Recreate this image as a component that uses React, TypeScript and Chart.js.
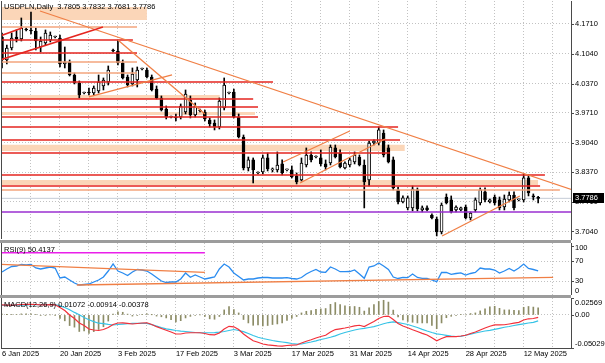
import React, { useEffect, useRef } from 'react';
import { Chart, registerables } from 'chart.js';

Chart.register(...registerables);

const FONT_FAMILY = '"Liberation Sans", Arial, sans-serif';

// ---------------- data ----------------
const symbolLabel = 'USDPLN,Daily';

const opens = [
  4.1417, 4.0900, 4.1170, 4.1417, 4.1372, 4.1597, 4.1575, 4.1552, 4.1192, 4.1282, 4.1350, 4.1417,
  4.1395, 4.0810, 4.0855, 4.0562, 4.0382, 4.0157, 4.0180, 4.0157, 4.0202, 4.0315,
  4.0405, 4.1125, 4.1102, 4.0832, 4.0517, 4.0360, 4.0450, 4.0697, 4.0675, 4.0517,
  4.0247, 4.0045, 3.9797, 3.9617, 3.9617, 3.9617, 3.9730, 4.0000, 3.9662, 3.9775,
  3.9730, 3.9550, 3.9482, 3.9392, 3.9820, 4.0157, 4.0180, 3.9617, 3.9167, 3.8470,
  3.8650, 3.8357, 3.8380, 3.8695, 3.8425, 3.8425, 3.8560, 3.8425, 3.8425, 3.8290,
  3.8200, 3.8537, 3.8762, 3.8717, 3.8695, 3.8560, 3.8582, 3.8920, 3.8807, 3.8470,
  3.8537, 3.8605, 3.8717, 3.8537, 3.8200, 3.9032, 3.9032, 3.9257, 3.8920, 3.8650,
  3.7975, 3.7705, 3.7570, 3.7570, 3.7975, 3.7525, 3.7570, 3.7412, 3.7322, 3.7030,
  3.7817, 3.7750, 3.7525, 3.7525, 3.7592, 3.7345, 3.7525, 3.7682, 3.7930, 3.7705,
  3.7817, 3.7750, 3.7592, 3.7750, 3.7862, 3.7750, 3.7750, 3.8245, 3.7840, 3.7805,
];
const highs = [
  4.1507, 4.1237, 4.1507, 4.1575, 4.1845, 4.1620, 4.1980, 4.1620, 4.1417, 4.1575, 4.1530, 4.1440,
  4.1462, 4.1192, 4.0900, 4.0607, 4.0427, 4.0180, 4.0270, 4.0315, 4.0562, 4.0495,
  4.0765, 4.1147, 4.1350, 4.0900, 4.0562, 4.0720, 4.0742, 4.0720, 4.0720, 4.0562,
  4.0315, 4.0090, 3.9865, 3.9640, 3.9685, 3.9910, 4.0225, 4.0090, 3.9932, 3.9797,
  3.9775, 3.9595, 3.9550, 4.0045, 4.0495, 4.0180, 4.0247, 3.9685, 3.9212, 3.8717,
  3.8695, 3.8380, 3.8762, 3.8807, 3.8470, 3.8830, 3.8650, 3.8447, 3.8515, 3.8357,
  3.8695, 3.8920, 3.8830, 3.8740, 3.8875, 3.8650, 3.8987, 3.8987, 3.8875, 3.8605,
  3.8695, 3.8830, 3.8762, 3.8650, 3.9077, 3.9100, 3.9392, 3.9325, 3.8987, 3.8717,
  3.8042, 3.7840, 3.7840, 3.8065, 3.8020, 3.7615, 3.7615, 3.7435, 3.7367, 3.7682,
  3.7885, 3.7840, 3.7615, 3.7592, 3.7637, 3.7480, 3.7795, 3.8020, 3.8020, 3.7772,
  3.7862, 3.7817, 3.7862, 3.7930, 3.7930, 3.7772, 3.8335, 3.8312, 3.7885, 3.7832,
];
const lows = [
  4.0720, 4.0810, 4.1125, 4.1305, 4.1327, 4.1552, 4.1485, 4.1125, 4.1080, 4.1237, 4.1305, 4.1395,
  4.0742, 4.0720, 4.0540, 4.0360, 4.0045, 4.0135, 4.0112, 4.0112, 4.0157, 4.0225,
  4.0337, 4.1080, 4.0787, 4.0472, 4.0292, 4.0315, 4.0292, 4.0675, 4.0495, 4.0202,
  4.0022, 3.9752, 3.9572, 3.9595, 3.9527, 3.9572, 3.9685, 3.9595, 3.9617, 3.9730,
  3.9527, 3.9392, 3.9325, 3.9347, 3.9775, 4.0135, 3.9595, 3.9145, 3.8425, 3.8402,
  3.8132, 3.8335, 3.8335, 3.8402, 3.8380, 3.8380, 3.8312, 3.8402, 3.8245, 3.8110,
  3.8177, 3.8492, 3.8605, 3.8695, 3.8515, 3.8425, 3.8537, 3.8695, 3.8470, 3.8447,
  3.8492, 3.8560, 3.8515, 3.7570, 3.8065, 3.8987, 3.8987, 3.8717, 3.8582, 3.7975,
  3.7660, 3.7682, 3.7525, 3.7502, 3.7502, 3.7480, 3.7502, 3.7322, 3.6940, 3.6985,
  3.7660, 3.7457, 3.7480, 3.7502, 3.7322, 3.7300, 3.7480, 3.7637, 3.7705, 3.7682,
  3.7637, 3.7525, 3.7525, 3.7705, 3.7525, 3.7727, 3.7705, 3.7840, 3.7750, 3.7681,
];
const closes = [
  4.0900, 4.1170, 4.1395, 4.1372, 4.1620, 4.1575, 4.1552, 4.1327, 4.1327, 4.1507, 4.1462, 4.1417,
  4.0810, 4.0855, 4.0562, 4.0382, 4.0112, 4.0157, 4.0157, 4.0270, 4.0405, 4.0450,
  4.0675, 4.1102, 4.0832, 4.0495, 4.0337, 4.0585, 4.0675, 4.0697, 4.0517, 4.0225,
  4.0045, 3.9775, 3.9617, 3.9617, 3.9595, 3.9865, 4.0135, 3.9662, 3.9865, 3.9752,
  3.9572, 3.9460, 3.9392, 3.9977, 4.0337, 4.0157, 3.9617, 3.9167, 3.8470, 3.8650,
  3.8425, 3.8357, 3.8695, 3.8447, 3.8425, 3.8537, 3.8357, 3.8425, 3.8267, 3.8155,
  3.8582, 3.8762, 3.8650, 3.8717, 3.8560, 3.8492, 3.8942, 3.8717, 3.8492, 3.8582,
  3.8650, 3.8762, 3.8537, 3.8155, 3.9032, 3.9077, 3.9325, 3.8762, 3.8605, 3.8020,
  3.7705, 3.7795, 3.7795, 3.7997, 3.7547, 3.7570, 3.7525, 3.7345, 3.7030, 3.7637,
  3.7682, 3.7480, 3.7592, 3.7570, 3.7345, 3.7457, 3.7750, 3.7975, 3.7750, 3.7750,
  3.7682, 3.7570, 3.7772, 3.7862, 3.7570, 3.7750, 3.8245, 3.7907, 3.7817, 3.7786,
];

// bottom axis: bar index of each date label, and weekly grid positions
const dateLabelIdx = [0, 12, 24, 36, 48, 60, 72, 84, 96, 108];
const dateLabels = ['6 Jan 2025', '20 Jan 2025', '3 Feb 2025', '17 Feb 2025', '3 Mar 2025', '17 Mar 2025', '31 Mar 2025', '14 Apr 2025', '28 Apr 2025', '12 May 2025'];
const weekGridIdx = [0, 6, 12, 18, 24, 30, 36, 42, 48, 54, 60, 66, 72, 78, 84, 90, 96, 102, 108, 114];
const barRange = [-0.207, 117.8];

// price axis
const priceTicks = [4.171, 4.104, 4.037, 3.971, 3.904, 3.837, 3.771, 3.704];
const priceRange = [3.6871, 4.2227];

// drawn objects on the price chart
const redLevels = [4.135, 4.1057, 4.0405, 4.0022, 3.9842, 3.9617, 3.9392, 3.91, 3.8807, 3.8312, 3.8065];
const redLevelEnds = [27.1, 27.95, 56.1, 52.0, 53.0, 53.0, 82.0, 82.4, 80.3, 112.4, 111.4];
const salmonLevels = [4.1642, 4.0855, 4.0607, 3.7975];
const salmonLevelEnds = [27.95, 27.95, 27.95, 115.5];
const supportLevel = 3.748;
const zoneTops = [4.2093, 4.0112, 3.973, 3.8991, 3.8199];
const zoneBottoms = [4.18, 4.0022, 3.9662, 3.8851, 3.8086];
const zoneEnds = [30.0, 45.1, 52.4, 83.4, 111.0];
const redTrendFromIdx = [-0.41, -0.41];
const redTrendFromPrice = [4.09, 4.144];
const redTrendToIdx = [20.9, 4.14];
const redTrendToPrice = [4.1642, 4.162];
const orangeTrendFromIdx = [7.87, 24.0, 18.0, 58.2, 61.7, 91.1];
const orangeTrendFromPrice = [4.2002, 4.135, 4.0067, 3.8604, 3.8131, 3.6938];
const orangeTrendToIdx = [118, 42.0, 35.2, 72.0, 79.3, 107.2];
const orangeTrendToPrice = [3.798, 3.9684, 4.0562, 3.9302, 3.9122, 3.7839];

// RSI(9)
const rsi = [
  48, 54, 59, 60, 63, 62, 63, 56, 54, 56, 58, 56,
  36, 38, 32, 26, 22, 23, 24, 28, 32, 38,
  50, 64, 50, 46, 41, 48, 53, 52, 50, 44,
  37, 30, 27, 28, 28, 34, 46, 37.4, 42, 38,
  34, 36, 38, 54, 64, 58, 46, 39, 32, 34,
  34, 36, 37, 37, 36, 36, 36, 36.6, 35, 34,
  37, 44, 49, 53, 48, 47.4, 58, 54, 48.6, 48.6,
  49, 52, 44, 35.4, 58, 60, 66, 60, 53, 38,
  35, 37.4, 36.6, 44, 37, 35.4, 35.4, 32, 28.6, 47,
  47.4, 43.4, 45, 46.4, 42, 45, 47, 56, 54, 54,
  52, 46, 50, 55, 50, 56, 64, 55, 53, 50.4137,
];
const rsiRange = [2, 106];
const rsiGridLevels = [30, 70];
const rsiAxisValues = [100, 70, 30, 0];
const rsiMagentaLevel = 86.6;
const rsiMagentaEnd = 42;
const rsiTrendFromIdx = [-0.41, 15.5];
const rsiTrendFromVal = [63.4, 22];
const rsiTrendToIdx = [42.0, 114.1];
const rsiTrendToVal = [47.4, 37.4];

// MACD(12,26,9)
const macdLine = [
  0.0152, 0.0148, 0.0150, 0.0152, 0.0158, 0.0160, 0.0162, 0.0158, 0.0152, 0.0153, 0.0155, 0.0153,
  0.0112, 0.0067, -0.0002, -0.0055, -0.0123, -0.0161, -0.0214, -0.0229, -0.0237, -0.0222,
  -0.0191, -0.0146, -0.0123, -0.0120, -0.0128, -0.0138, -0.0131, -0.0123, -0.0120, -0.0146,
  -0.0179, -0.0207, -0.0234, -0.0260, -0.0290, -0.0290, -0.0275, -0.0271, -0.0271, -0.0271,
  -0.0283, -0.0301, -0.0302, -0.0275, -0.0214, -0.0173, -0.0181, -0.0222, -0.0290, -0.0343,
  -0.0392, -0.0416, -0.0442, -0.0454, -0.0462, -0.0470, -0.0473, -0.0465, -0.0460, -0.0457,
  -0.0427, -0.0400, -0.0378, -0.0351, -0.0328, -0.0310, -0.0260, -0.0223, -0.0211, -0.0199,
  -0.0184, -0.0166, -0.0157, -0.0176, -0.0138, -0.0100, -0.0055, -0.0024, -0.0018, -0.0070,
  -0.0131, -0.0169, -0.0196, -0.0225, -0.0252, -0.0280, -0.0305, -0.0347, -0.0392, -0.0359,
  -0.0331, -0.0331, -0.0331, -0.0321, -0.0309, -0.0283, -0.0260, -0.0229, -0.0199, -0.0173,
  -0.0153, -0.0153, -0.0150, -0.0138, -0.0126, -0.0114, -0.0078, -0.0059, -0.0055, -0.00378,
];
const signalLine = [
  0.0146, 0.0147, 0.0147, 0.0148, 0.0150, 0.0152, 0.0154, 0.0155, 0.0155, 0.0155, 0.0155, 0.0155,
  0.0138, 0.0112, 0.0079, 0.0038, 0.0003, -0.0040, -0.0073, -0.0102, -0.0126, -0.0132,
  -0.0144, -0.0153, -0.0146, -0.0140, -0.0134, -0.0129, -0.0128, -0.0128, -0.0128, -0.0147,
  -0.0170, -0.0193, -0.0211, -0.0223, -0.0237, -0.0246, -0.0252, -0.0260, -0.0267, -0.0271,
  -0.0271, -0.0271, -0.0269, -0.0263, -0.0252, -0.0237, -0.0222, -0.0237, -0.0255, -0.0283,
  -0.0313, -0.0340, -0.0359, -0.0374, -0.0389, -0.0401, -0.0412, -0.0422, -0.0435, -0.0445,
  -0.0442, -0.0427, -0.0412, -0.0394, -0.0374, -0.0359, -0.0340, -0.0318, -0.0290, -0.0267,
  -0.0248, -0.0229, -0.0214, -0.0205, -0.0191, -0.0179, -0.0157, -0.0135, -0.0116, -0.0106,
  -0.0116, -0.0131, -0.0146, -0.0169, -0.0191, -0.0219, -0.0245, -0.0267, -0.0287, -0.0298,
  -0.0310, -0.0321, -0.0328, -0.0325, -0.0309, -0.0293, -0.0275, -0.0260, -0.0245, -0.0234,
  -0.0219, -0.0204, -0.0188, -0.0176, -0.0161, -0.0147, -0.0135, -0.0123, -0.0114, -0.00914,
];
const macdHist = [
  0.0012, 0.0002, 0.0006, 0.0008, 0.0016, 0.0016, 0.0016, 0.0006, -0.0006, -0.0004, 0.0000, -0.0004,
  -0.0052, -0.0090, -0.0162, -0.0186, -0.0252, -0.0242, -0.0282, -0.0254, -0.0222, -0.0180,
  -0.0094, 0.0014, 0.0046, 0.0040, 0.0012, -0.0018, -0.0006, 0.0010, 0.0016, 0.0002,
  -0.0018, -0.0028, -0.0046, -0.0074, -0.0106, -0.0088, -0.0046, -0.0022, -0.0008, 0.0000,
  -0.0024, -0.0060, -0.0066, -0.0024, 0.0076, 0.0128, 0.0082, 0.0030, -0.0070, -0.0122,
  -0.0158, -0.0152, -0.0167, -0.0161, -0.0146, -0.0137, -0.0122, -0.0085, -0.0052, -0.0024,
  0.0030, 0.0055, 0.0067, 0.0085, 0.0091, 0.0097, 0.0161, 0.0188, 0.0158, 0.0137,
  0.0128, 0.0128, 0.0116, 0.0058, 0.0106, 0.0158, 0.0204, 0.0222, 0.0195, 0.0073,
  -0.0030, -0.0076, -0.0100, -0.0112, -0.0122, -0.0122, -0.0122, -0.0158, -0.0210, -0.0122,
  -0.0043, -0.0021, -0.0006, 0.0009, 0.0000, 0.0021, 0.0030, 0.0061, 0.0091, 0.0122,
  0.0131, 0.0100, 0.0076, 0.0076, 0.0070, 0.0067, 0.0116, 0.0128, 0.0119, 0.01072,
];
const macdRange = [-0.05029, 0.02569];
const macdAxisValues = [0.02569, 0, -0.05029];
const macdAxisLabels = ['0.02569', '0.00', '-0.05029'];

// ---------------- styles ----------------
const GRID = '#c2c2c2';
const AXIS = '#4a4a4a';
const RED = '#e5251f';
const SALMON = '#f3a57c';
const ORANGE = '#f07f45';
const PEACH = '#fbd6b8';
const PURPLE = '#9a2fd0';
const TXT = 7.5;

const rightAxisPlugin = {
  id: 'rightAxis',
  afterDraw(chart: any, _args: any, opts: any) {
    const { ctx, chartArea } = chart;
    const scale = chart.scales.y;
    ctx.save();
    ctx.strokeStyle = AXIS;
    ctx.lineWidth = 1;
    ctx.beginPath();
    ctx.moveTo(chartArea.left + 0.5, chartArea.top);
    ctx.lineTo(chartArea.left + 0.5, chartArea.bottom);
    ctx.stroke();
    ctx.font = `${TXT}px ${FONT_FAMILY}`;
    ctx.textBaseline = 'middle';
    ctx.textAlign = 'left';
    ctx.fillStyle = '#000';
    (opts.values || []).forEach((v: number, i: number) => {
      const py = scale.getPixelForValue(v);
      if (py >= chartArea.top && py <= chartArea.bottom) {
        const yy = Math.round(py) + 0.5;
        ctx.beginPath();
        ctx.moveTo(chartArea.right, yy);
        ctx.lineTo(chartArea.right + 3, yy);
        ctx.stroke();
      }
      const ty = Math.min(Math.max(py, chartArea.top + 4.5), chartArea.bottom - 4.5);
      ctx.fillText(opts.labels[i], chartArea.right + 4, ty);
    });
    if (opts.marker) {
      const py = scale.getPixelForValue(opts.marker.value);
      ctx.fillStyle = '#000';
      ctx.fillRect(chartArea.right + 2, Math.round(py) - 5, 31, 10);
      ctx.fillStyle = '#fff';
      ctx.fillText(opts.marker.text, chartArea.right + 4, py);
    }
    ctx.restore();
  },
};

const seg = (x1: number, y1: number, x2: number, y2: number, color: string, width: number, order = 1) => ({
  type: 'line',
  data: [{ x: x1, y: y1 }, { x: x2, y: y2 }],
  borderColor: color,
  borderWidth: width,
  pointRadius: 0,
  fill: false,
  tension: 0,
  order,
});

const xScale = (showLabels: boolean) => ({
  type: 'linear',
  min: barRange[0],
  max: barRange[1],
  offset: false,
  afterBuildTicks: (s: any) => {
    s.ticks = weekGridIdx.map((v) => ({ value: v }));
  },
  afterFit: (s: any) => {
    s.height = showLabels ? 15 : 0;
    s.paddingLeft = 0;
    s.paddingRight = 0;
  },
  ticks: {
    display: showLabels,
    autoSkip: false,
    maxRotation: 0,
    minRotation: 0,
    align: 'start',
    padding: 1,
    color: '#000',
    font: { size: TXT, family: FONT_FAMILY },
    callback: (v: number) => {
      const k = dateLabelIdx.indexOf(v);
      return k >= 0 ? dateLabels[k] : '';
    },
  },
  grid: { color: GRID, drawTicks: false, offset: false },
  border: { display: showLabels, color: AXIS, dash: [1, 2] },
});

const yScale = (min: number, max: number, gridValues: number[]) => ({
  position: 'right',
  min,
  max,
  afterBuildTicks: (s: any) => {
    s.ticks = gridValues.map((v) => ({ value: v }));
  },
  afterFit: (s: any) => {
    s.width = 34;
    s.paddingTop = 0;
    s.paddingBottom = 0;
  },
  ticks: { display: false },
  grid: { color: GRID, drawTicks: false },
  border: { display: true, color: AXIS, dash: [1, 2] },
});

const baseOptions = (padding: any) => ({
  animation: false,
  responsive: false,
  devicePixelRatio: 1,
  events: [],
  layout: { padding },
});

function mainConfig(): any {
  const idx = closes.map((_, i) => i);
  const datasets: any[] = [];
  zoneTops.forEach((top, i) => {
    datasets.push({ ...seg(-1, top, zoneEnds[i], top, PEACH, 0, 20) });
    datasets.push({ ...seg(-1, zoneBottoms[i], zoneEnds[i], zoneBottoms[i], PEACH, 0, 20), fill: '-1', backgroundColor: PEACH });
  });
  datasets.push(seg(-1, closes[closes.length - 1], 120, closes[closes.length - 1], '#c4ccd6', 1, 15));
  datasets.push({
    type: 'bar',
    data: idx.map((i) => ({ x: i, y: [lows[i], highs[i]] })),
    backgroundColor: '#000',
    barThickness: 1,
    grouped: false,
    order: 6,
  });
  datasets.push({
    type: 'bar',
    data: idx.map((i) => ({ x: i, y: [opens[i], closes[i]] })),
    backgroundColor: idx.map((i) => (closes[i] >= opens[i] ? '#ffffff' : '#000000')),
    borderColor: '#000',
    borderWidth: 1,
    borderSkipped: false,
    barThickness: 3,
    minBarLength: 1,
    grouped: false,
    order: 5,
  });
  salmonLevels.forEach((lv, i) => datasets.push(seg(-1, lv, salmonLevelEnds[i], lv, SALMON, 1.5, 3)));
  redLevels.forEach((lv, i) => datasets.push(seg(-1, lv, redLevelEnds[i], lv, RED, 1.5, 2)));
  datasets.push(seg(-1, supportLevel, 120, supportLevel, PURPLE, 1.5, 2));
  redTrendFromIdx.forEach((x1, i) =>
    datasets.push(seg(x1, redTrendFromPrice[i], redTrendToIdx[i], redTrendToPrice[i], RED, 1.5, 1)),
  );
  orangeTrendFromIdx.forEach((x1, i) =>
    datasets.push(seg(x1, orangeTrendFromPrice[i], orangeTrendToIdx[i], orangeTrendToPrice[i], ORANGE, 1.3, 1)),
  );
  const last = closes[closes.length - 1];
  return {
    type: 'bar',
    data: { datasets },
    options: {
      ...baseOptions({ left: 1, top: 1, bottom: 1, right: 0 }),
      plugins: {
        legend: { display: false },
        tooltip: { enabled: false },
        rightAxis: {
          values: priceTicks,
          labels: priceTicks.map((v) => v.toFixed(4)),
          marker: { value: last, text: last.toFixed(4) },
        },
      },
      scales: { x: xScale(false), y: yScale(priceRange[0], priceRange[1], priceTicks) },
    },
    plugins: [rightAxisPlugin],
  };
}

function rsiConfig(): any {
  const datasets: any[] = [
    seg(-1, rsiMagentaLevel, rsiMagentaEnd, rsiMagentaLevel, '#ea1fea', 1.5, 3),
    {
      type: 'line',
      data: rsi.map((v, i) => ({ x: i, y: v })),
      borderColor: '#2a8cf0',
      borderWidth: 1.3,
      pointRadius: 0,
      tension: 0,
      order: 2,
    },
  ];
  rsiTrendFromIdx.forEach((x1, i) =>
    datasets.push(seg(x1, rsiTrendFromVal[i], rsiTrendToIdx[i], rsiTrendToVal[i], ORANGE, 1.3, 1)),
  );
  return {
    type: 'line',
    data: { datasets },
    options: {
      ...baseOptions({ left: 1, top: 0, bottom: 0, right: 0 }),
      plugins: {
        legend: { display: false },
        tooltip: { enabled: false },
        rightAxis: { values: rsiAxisValues, labels: rsiAxisValues.map((v) => String(v)) },
      },
      scales: { x: xScale(false), y: yScale(rsiRange[0], rsiRange[1], rsiGridLevels) },
    },
    plugins: [rightAxisPlugin],
  };
}

function macdConfig(): any {
  return {
    type: 'bar',
    data: {
      datasets: [
        {
          type: 'bar',
          data: macdHist.map((v, i) => ({ x: i, y: v })),
          backgroundColor: '#8c8c66',
          barThickness: 1,
          grouped: false,
          order: 3,
        },
        {
          type: 'line',
          data: signalLine.map((v, i) => ({ x: i, y: v })),
          borderColor: '#36c3e6',
          borderWidth: 1.2,
          pointRadius: 0,
          tension: 0,
          order: 2,
        },
        {
          type: 'line',
          data: macdLine.map((v, i) => ({ x: i, y: v })),
          borderColor: '#f2303a',
          borderWidth: 1.2,
          pointRadius: 0,
          tension: 0,
          order: 1,
        },
      ],
    },
    options: {
      ...baseOptions({ left: 1, top: 0, bottom: 0, right: 0 }),
      plugins: {
        legend: { display: false },
        tooltip: { enabled: false },
        rightAxis: { values: macdAxisValues, labels: macdAxisLabels },
      },
      scales: { x: xScale(true), y: yScale(macdRange[0], macdRange[1], [0]) },
    },
    plugins: [rightAxisPlugin],
  };
}

const overlayText: React.CSSProperties = {
  position: 'absolute',
  left: 4,
  fontFamily: FONT_FAMILY,
  fontSize: TXT,
  lineHeight: '10px',
  color: '#000',
  whiteSpace: 'pre',
  pointerEvents: 'none',
};

export default function App() {
  const mainRef = useRef<HTMLCanvasElement>(null);
  const rsiRef = useRef<HTMLCanvasElement>(null);
  const macdRef = useRef<HTMLCanvasElement>(null);

  useEffect(() => {
    const charts = [
      new Chart(mainRef.current as HTMLCanvasElement, mainConfig()),
      new Chart(rsiRef.current as HTMLCanvasElement, rsiConfig()),
      new Chart(macdRef.current as HTMLCanvasElement, macdConfig()),
    ];
    return () => charts.forEach((c) => c.destroy());
  }, []);

  const n = closes.length - 1;
  const header = `${symbolLabel}  ${opens[n].toFixed(4)} ${highs[n].toFixed(4)} ${lows[n].toFixed(4)} ${closes[n].toFixed(4)}`;
  const rsiText = `RSI(9) ${rsi[n].toFixed(4)}`;
  const macdText = `MACD(12,26,9) ${macdHist[n].toFixed(5)} ${signalLine[n].toFixed(5)} ${macdLine[n].toFixed(5)}`;

  return (
    <div style={{ position: 'fixed', left: 0, top: 0, width: 605, height: 363, background: '#fff', overflow: 'hidden' }}>
      <canvas ref={mainRef} width={605} height={240} style={{ position: 'absolute', left: 0, top: 0 }} />
      <div style={{ position: 'absolute', left: 0, top: 240, width: 571, height: 3, background: '#9c9c9c' }} />
      <canvas ref={rsiRef} width={605} height={52} style={{ position: 'absolute', left: 0, top: 243 }} />
      <div style={{ position: 'absolute', left: 0, top: 295, width: 571, height: 3, background: '#9c9c9c' }} />
      <canvas ref={macdRef} width={605} height={65} style={{ position: 'absolute', left: 0, top: 298 }} />
      <div style={{ ...overlayText, top: 2 }}>{header}</div>
      <div style={{ ...overlayText, top: 245 }}>{rsiText}</div>
      <div style={{ ...overlayText, top: 300 }}>{macdText}</div>
    </div>
  );
}
